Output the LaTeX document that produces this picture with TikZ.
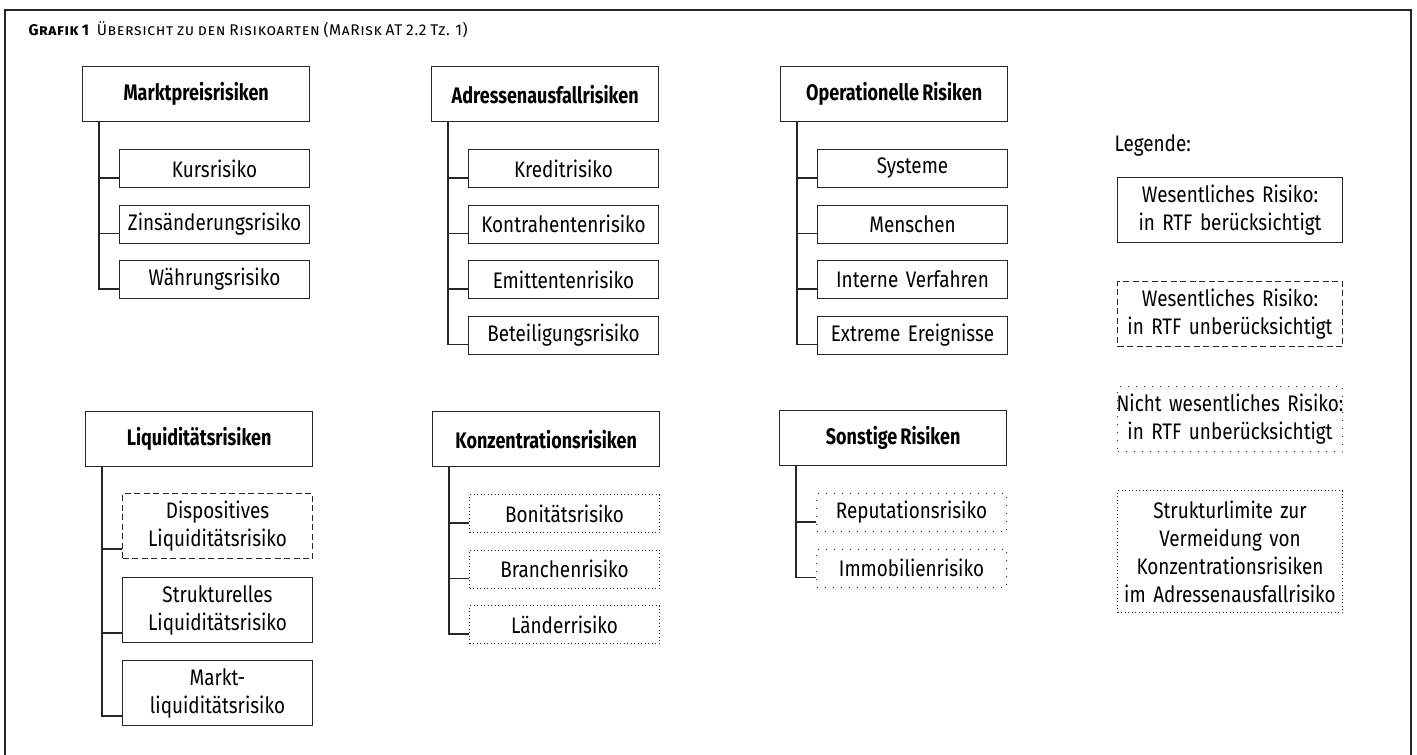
\documentclass[tikz,border=0pt]{standalone}
\usepackage{fontspec}
\setmainfont{Fira Sans}[FakeStretch=0.84,WordSpace=0.75,BoldFeatures={FakeStretch=0.8}]
\newfontfamily\titelfont{Fira Sans}[LetterSpace=4,WordSpace=0.8]
\usetikzlibrary{positioning}
\tikzset{
  kopf/.style={draw=black!85,line width=1.4pt,minimum width=227pt,minimum height=55pt,
    inner sep=0pt,anchor=north west,font=\bfseries\fontsize{22.5}{28}\selectfont},
  teil/.style={draw=black!85,line width=1pt,minimum width=190pt,minimum height=38pt,
    text width=186pt,inner xsep=2pt,inner ysep=0pt,align=center,anchor=north west,
    font=\fontsize{22.5}{28}\selectfont},
  zweizeilig/.style={minimum height=65pt},
  legbox/.style={teil,minimum width=225pt,text width=221pt,minimum height=65pt},
  gestrichelt/.style={dash pattern=on 6pt off 3.5pt},
  locker/.style={dash pattern=on 1pt off 7pt},
  dicht/.style={dash pattern=on 1pt off 2.5pt},
  stiel/.style={draw=black!85,line width=1.1pt},
}
\begin{document}
\begin{tikzpicture}[x=1pt,y=-1pt]
	\useasboundingbox (0,0) rectangle (1417,755);
	\draw[line width=1.4pt,black!85] (5,760) |- (1411,10) -- (1411,760);
	\node[anchor=base west,font=\titelfont\fontsize{15.5}{18}\selectfont] (titel) at (25,35)
		{\textbf{\textsc{Grafik 1}}\hspace{7pt}\textsc{Übersicht zu den Risikoarten (MaRisk AT 2.2 Tz. 1)}};
	% obere Reihe
	\node[kopf] (mp) at (82,66) {Marktpreisrisiken};
	\foreach\t [count=\i] in {Kursrisiko,Zinsänderungsrisiko,Währungsrisiko}{
		\node[teil] (mp\i) at (119,{149+55.5*(\i-1)}) {\t};
		\draw[stiel] ([xshift=17pt]mp.south west) |- ([yshift=10pt]mp\i.south west);
	}
	\node[kopf] (aa) at (431,66) {Adressenausfallrisiken};
	\foreach\t [count=\i] in {Kreditrisiko,Kontrahentenrisiko,Emittentenrisiko,Beteiligungsrisiko}{
		\node[teil] (aa\i) at (468,{149+55.5*(\i-1)}) {\t};
		\draw[stiel] ([xshift=17pt]aa.south west) |- ([yshift=10pt]aa\i.south west);
	}
	\node[kopf] (op) at (780,66) {Operationelle Risiken};
	\foreach\t [count=\i] in {Systeme,Menschen,Interne Verfahren,Extreme Ereignisse}{
		\node[teil] (op\i) at (817,{149+55.5*(\i-1)}) {\t};
		\draw[stiel] ([xshift=17pt]op.south west) |- ([yshift=10pt]op\i.south west);
	}
	% untere Reihe
	\node[kopf] (lq) at (85,411) {Liquiditätsrisiken};
	\node[teil,zweizeilig,gestrichelt] (lq1) at (122,493) {Dispositives\\Liquiditätsrisiko};
	\node[teil,zweizeilig] (lq2) at (122,577) {Strukturelles\\Liquiditätsrisiko};
	\node[teil,zweizeilig] (lq3) at (122,660) {Markt-\\liquiditätsrisiko};
	\foreach\i in {1,2,3}{
		\draw[stiel] ([xshift=17pt]lq.south west) |- ([yshift=10pt]lq\i.south west);
	}
	\node[kopf] (kz) at (432,411) {Konzentrationsrisiken};
	\foreach\t [count=\i] in {Bonitätsrisiko,Branchenrisiko,Länderrisiko}{
		\node[teil,dicht] (kz\i) at (469,{494+55.5*(\i-1)}) {\t};
		\draw[stiel] ([xshift=17pt]kz.south west) |- ([yshift=10pt]kz\i.south west);
	}
	\node[kopf] (so) at (779,410) {Sonstige Risiken};
	\foreach\t [count=\i] in {Reputationsrisiko,Immobilienrisiko}{
		\node[teil,locker] (so\i) at (816,{493+55.5*(\i-1)}) {\t};
		\draw[stiel] ([xshift=17pt]so.south west) |- ([yshift=10pt]so\i.south west);
	}
	% Legende
	\node[anchor=west,font=\fontsize{22.5}{28}\selectfont] (leg) at (1111,145) {Legende:};
	\node[legbox] (lg1) at (1117,177) {Wesentliches Risiko:\\in RTF berücksichtigt};
	\node[legbox,gestrichelt] (lg2) at (1117,281) {Wesentliches Risiko:\\in RTF unberücksichtigt};
	\node[legbox,locker] (lg3) at (1117,386) {\makebox[0pt]{Nicht wesentliches Risiko:}\\in RTF unberücksichtigt};
	\node[legbox,dicht,minimum height=122pt] (lg4) at (1117,490)
		{Strukturlimite zur\\Vermeidung von\\Konzentrationsrisiken\\im Adressenausfallrisiko};
\end{tikzpicture}
\end{document}
